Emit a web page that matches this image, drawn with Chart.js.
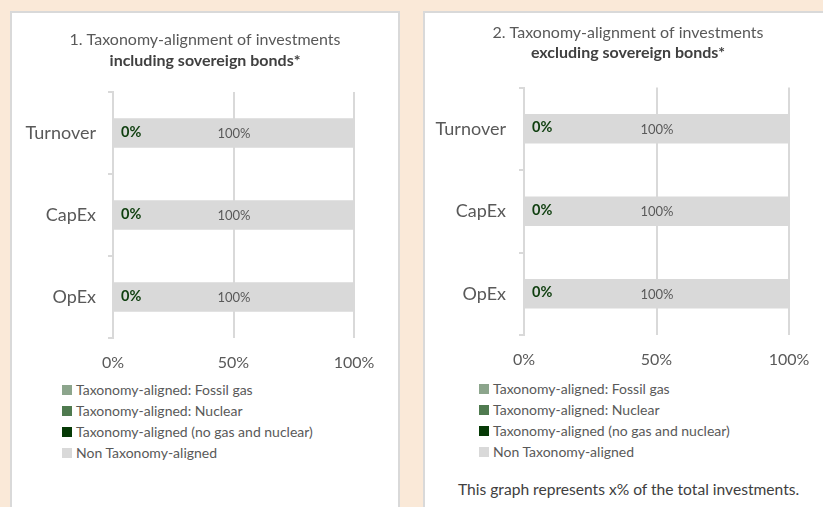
<!DOCTYPE html>
<html>
<head>
<meta charset="utf-8">
<script src="https://cdn.jsdelivr.net/npm/chart.js@4.4.1/dist/chart.umd.min.js"></script>
<style>
  html, body { margin: 0; padding: 0; width: 823px; height: 507px; overflow: hidden; background: #FAE9D8; font-family: Lato, "Open Sans", sans-serif; }
  .panel { position: absolute; background: #ffffff; border: 2px solid #D9D9D9; box-sizing: border-box; }
  #p1 { left: 10px; top: 11px; width: 390px; height: 520px; }
  #p2 { left: 423px; top: 11px; width: 420px; height: 520px; }
  canvas { position: absolute; }
  #c1 { left: 11px; top: 12px; }
  #c2 { left: 424px; top: 12px; }
  .legend { position: absolute; font-size: 14px; color: #595959; }
  .legend .item { height: 21px; line-height: 21px; white-space: nowrap; display: flex; align-items: center; }
  .legend .sw { width: 10px; height: 10px; margin-right: 4px; display: inline-block; }
  #lg1 { left: 62px; top: 379px; }
  #lg2 { left: 479px; top: 378px; }
  #note { position: absolute; left: 458px; top: 480px; font-size: 15.6px; color: #404040; white-space: nowrap; }
</style>
</head>
<body>
<div class="panel" id="p1"></div>
<div class="panel" id="p2"></div>
<canvas id="c1" width="388" height="366"></canvas>
<canvas id="c2" width="408" height="363"></canvas>
<div class="legend" id="lg1"></div>
<div class="legend" id="lg2"></div>
<div id="note">This graph represents x% of the total investments.</div>
<script>
// ---- data ----
const categories = ['Turnover', 'CapEx', 'OpEx'];
const seriesNames = ['Taxonomy-aligned: Fossil gas', 'Taxonomy-aligned: Nuclear', 'Taxonomy-aligned (no gas and nuclear)', 'Non Taxonomy-aligned'];
const seriesColors = ['#8CA58C', '#4F7A4F', '#063A06', '#D9D9D9'];
const xTickValues = [0, 50, 100];

const inclFossilGas = [0, 0, 0];
const inclNuclear = [0, 0, 0];
const inclAligned = [0, 0, 0];
const inclNonAligned = [100, 100, 100];

const exclFossilGas = [0, 0, 0];
const exclNuclear = [0, 0, 0];
const exclAligned = [0, 0, 0];
const exclNonAligned = [100, 100, 100];

const title1 = '1. Taxonomy-alignment of investments';
const subtitle1 = 'including sovereign bonds*';
const title2 = '2. Taxonomy-alignment of investments';
const subtitle2 = 'excluding sovereign bonds*';

const FONT = 'Lato, "Open Sans", sans-serif';
const TEXT = '#595959';

// bar value labels: aligned series (dark green, bold, left) and non-aligned (grey, centred)
const valueLabels = {
  id: 'valueLabels',
  afterDatasetsDraw(chart) {
    const ctx = chart.ctx;
    ctx.save();
    ctx.textBaseline = 'middle';
    chart.data.datasets.forEach((ds, di) => {
      if (!ds.showValue) return;
      const meta = chart.getDatasetMeta(di);
      meta.data.forEach((el, i) => {
        const v = ds.data[i];
        const txt = v + '%';
        if (ds.showValue === 'start') {
          ctx.font = 'bold 14.5px ' + FONT;
          ctx.fillStyle = '#0E3E0E';
          ctx.textAlign = 'left';
          ctx.fillText(txt, el.base + 8, el.y - 1);
        } else {
          ctx.font = '13px ' + FONT;
          ctx.fillStyle = TEXT;
          ctx.textAlign = 'center';
          ctx.fillText(txt, (el.base + el.x) / 2, el.y + 1);
        }
      });
    });
    ctx.restore();
  }
};

// two-line header centred on the panel (title normal, subtitle bold)
const panelHeader = {
  id: 'panelHeader',
  afterDraw(chart, args, opts) {
    const ctx = chart.ctx;
    ctx.save();
    ctx.textAlign = 'center';
    ctx.textBaseline = 'middle';
    ctx.font = '16px ' + FONT;
    ctx.fillStyle = TEXT;
    ctx.fillText(opts.title, opts.x, opts.y1);
    ctx.font = 'bold 16px ' + FONT;
    ctx.fillStyle = '#404040';
    ctx.fillText(opts.subtitle, opts.x, opts.y2);
    ctx.restore();
  }
};

function makeChart(id, title, subtitle, values, o) {
  const shows = [null, null, 'start', 'center'];
  const datasets = seriesNames.map((name, k) => ({
    label: name,
    data: values[k],
    backgroundColor: seriesColors[k],
    borderWidth: 0,
    categoryPercentage: 1,
    barPercentage: 0.36,
    showValue: shows[k]
  }));
  return new Chart(document.getElementById(id), {
    type: 'bar',
    data: { labels: categories, datasets },
    plugins: [valueLabels, panelHeader],
    options: {
      indexAxis: 'y',
      responsive: false,
      animation: false,
      devicePixelRatio: 1,
      layout: { padding: { left: 0, right: o.right, top: o.top, bottom: 0 } },
      plugins: {
        legend: { display: false },
        tooltip: { enabled: false },
        title: { display: false },
        panelHeader: { title, subtitle, x: o.hx, y1: o.hy1, y2: o.hy2 }
      },
      scales: {
        x: {
          stacked: true, min: 0, max: 100,
          afterBuildTicks(scale) { scale.ticks = xTickValues.map(v => ({ value: v })); },
          afterFit(scale) { scale.height = 40; },
          ticks: {
            color: TEXT, padding: 15,
            font: { family: FONT, size: 16 },
            callback: v => v + '%'
          },
          grid: { color: '#D9D9D9', lineWidth: 2, drawTicks: false },
          border: { display: false }
        },
        y: {
          stacked: true,
          afterFit(scale) { scale.width = o.yWidth; },
          ticks: { color: TEXT, padding: o.yPad, font: { family: FONT, size: 18 } },
          grid: { drawOnChartArea: false, drawTicks: true, tickLength: 5, color: '#D9D9D9', lineWidth: 2, offset: true },
          border: { display: true, color: '#D9D9D9', width: 2 }
        }
      }
    }
  });
}

makeChart('c1', title1, subtitle1, [inclFossilGas, inclNuclear, inclAligned, inclNonAligned],
  { right: 45, top: 80, yWidth: 102, yPad: 12, hx: 194, hy1: 28, hy2: 49 });
makeChart('c2', title2, subtitle2, [exclFossilGas, exclNuclear, exclAligned, exclNonAligned],
  { right: 43, top: 75.5, yWidth: 100, yPad: 13, hx: 204, hy1: 21, hy2: 41 });

function buildLegend(id) {
  const el = document.getElementById(id);
  seriesNames.forEach((name, k) => {
    const item = document.createElement('div');
    item.className = 'item';
    const sw = document.createElement('span');
    sw.className = 'sw';
    sw.style.background = seriesColors[k];
    const t = document.createElement('span');
    t.textContent = name;
    item.appendChild(sw); item.appendChild(t);
    el.appendChild(item);
  });
}
buildLegend('lg1');
buildLegend('lg2');
</script>
</body>
</html>
